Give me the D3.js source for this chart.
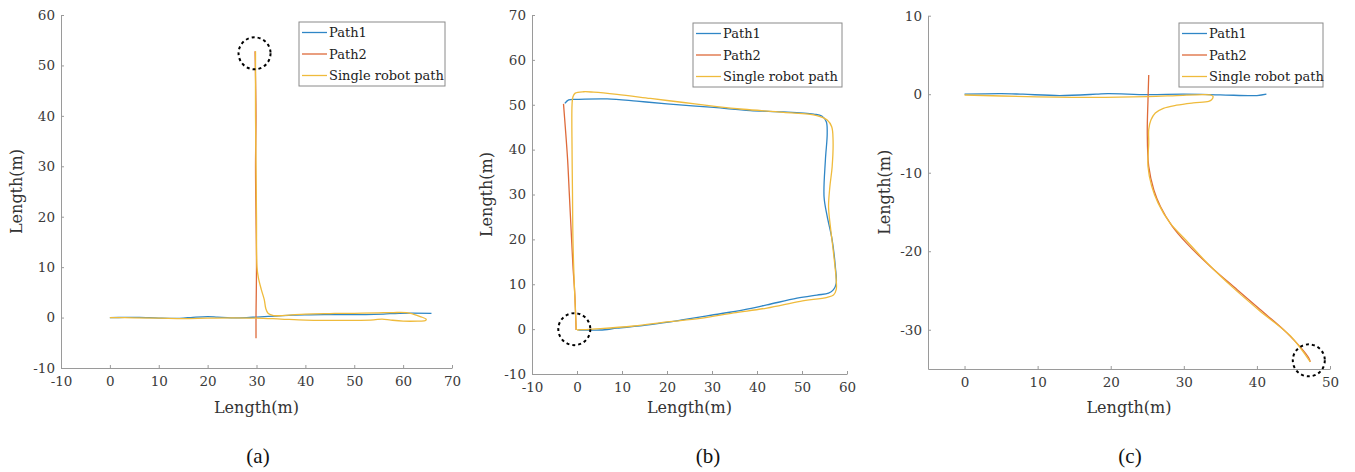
<!DOCTYPE html>
<html>
<head>
<meta charset="utf-8">
<script src="https://cdn.jsdelivr.net/npm/d3@7"></script>
<style>
  body { margin: 0; background: #fff; }
  svg { display: block; }
  .axis path, .axis line { stroke: #9a9a9a; }
  .axis text { fill: #3a3a3a; font-family: "DejaVu Serif", serif; font-size: 13.5px; }
  .title { fill: #333; font-family: "DejaVu Serif", serif; font-size: 16px; }
  .legend text { fill: #222; font-family: "DejaVu Serif", serif; font-size: 13px; }
  .caption { fill: #111; font-family: "Liberation Serif", serif; font-size: 21px; }
</style>
</head>
<body>
<svg id="chart" width="1355" height="472"></svg>
<script>
// series names and colours (MATLAB defaults, slightly softened)
const seriesNames = ["Path1", "Path2", "Single robot path"];
const seriesColors = ["#2f86c6", "#de6a3a", "#efbb3c"];

// (a) straight line test
const aXDomain = [-10, 70];
const aYDomain = [-10, 60];
const aXTicks = [-10, 0, 10, 20, 30, 40, 50, 60, 70];
const aYTicks = [-10, 0, 10, 20, 30, 40, 50, 60];
const aPath1 = [[0,0],[3,0.02],[6,0.05],[10,-0.1],[14.3,-0.15],[17,0.05],[20,0.2],[22,0.1],[24.8,-0.05],[28,0],[30,0.1],[34,0.3],[37.5,0.5],[41,0.55],[45.6,0.6],[50,0.6],[52.4,0.6],[56,0.7],[59.2,0.85],[65.8,0.85]];
const aPath2 = [[29.9,-4.1],[29.9,0],[30,10],[29.9,20],[29.8,30],[29.9,40],[29.7,52.8]];
const aSingle = [[0,0],[5,-0.05],[10,-0.1],[15,-0.2],[20,-0.1],[25,-0.05],[30,-0.1],[35,-0.3],[40,-0.5],[45,-0.55],[50,-0.55],[54,-0.45],[55.7,-0.3],[57.5,-0.5],[60,-0.7],[63,-0.7],[64.6,-0.6],[64.7,-0.3],[63.5,0.2],[62,0.7],[60.7,0.97],[58,1.0],[55,0.95],[50,0.85],[45,0.8],[40,0.7],[36,0.45],[33.5,0.4],[32.4,0.8],[31.9,1.8],[31.6,3.5],[31,5.5],[30.4,7.8],[30.1,10],[30,20],[29.9,30],[29.8,40],[29.8,52.8]];

// (b) loop test
const bXDomain = [-10, 60];
const bYDomain = [-10, 70];
const bXTicks = [-10, 0, 10, 20, 30, 40, 50, 60];
const bYTicks = [-10, 0, 10, 20, 30, 40, 50, 60, 70];
const bPath1 = [[0.3,-0.2],[3,-0.2],[5.2,-0.2],[8.9,0.2],[16.3,1],[23.7,2.1],[30.4,3.2],[37,4.3],[42.2,5.4],[48.9,6.9],[53.3,7.6],[55.9,8],[57,8.8],[57.6,10.2],[57.4,14],[56.7,19.9],[55.6,25.1],[54.9,29.5],[55.2,37.7],[55.6,43.6],[55.4,46.2],[54.4,47.5],[52.6,47.9],[45.9,48.4],[38.5,48.7],[30.4,49.4],[20,50.2],[13.3,50.8],[6.7,51.3],[0,51.2],[-1.85,51.1],[-2.7,50.3]];
const bPath2 = [[-3,50.2],[-2.6,45],[-2.1,38],[-1.7,30],[-1.3,22],[-0.9,14],[-0.5,8],[-0.3,3],[-0.2,-0.2]];
const bSingle = [[0,-0.2],[1.5,-0.1],[5.2,0.1],[12.6,0.7],[20,1.6],[27.4,2.4],[34.8,3.6],[42.2,4.7],[49.6,6.2],[55.6,7.1],[57,7.6],[57.6,8.8],[57.6,11],[57,17],[56.3,22.9],[55.9,27.3],[56.2,31.8],[56.7,36.2],[56.9,42.2],[56.6,45.1],[55.6,46.6],[53.3,47.6],[45.9,48.3],[37,49],[31.1,49.6],[23.7,50.5],[16.3,51.4],[8.9,52.3],[3.7,52.8],[1.5,52.9],[-0.4,52.6],[-0.9,51.8],[-1.1,50],[-1.1,40],[-1,30],[-0.9,20],[-0.6,10],[-0.3,3],[-0.15,-0.2]];

// (c) turning test
const cXDomain = [-5, 50];
const cYDomain = [-35, 10];
const cXTicks = [0, 10, 20, 30, 40, 50];
const cYTicks = [-30, -20, -10, 0, 10];
const cPath1 = [[0,0],[5,0.08],[8,0],[13,-0.17],[18,0],[19.6,0.08],[25,-0.05],[30,0],[35,-0.08],[40,-0.17],[41.3,0]];
const cPath2 = [[25.2,2.46],[25.1,-0.7],[25,-5],[25.2,-9.2],[25.9,-12.2],[26.8,-14.3],[28.4,-16.8],[30.4,-19],[33.6,-21.9],[37.3,-24.9],[40.4,-27.4],[44.1,-30.4],[47.1,-33.6],[47.3,-34.1]];
const cSingle = [[0,-0.1],[8.5,-0.3],[17.6,-0.4],[25,-0.3],[29,-0.17],[32.7,-0.05],[33.6,-0.1],[34,-0.3],[33.8,-0.7],[33.4,-0.9],[31.3,-1.1],[29,-1.4],[27.2,-1.8],[26.1,-2.4],[25.5,-3.3],[25.2,-4.5],[25.2,-6.2],[25.1,-9.2],[25.6,-11.7],[26.5,-13.9],[28.1,-16.4],[30.2,-18.5],[33.2,-21.5],[36.8,-24.7],[40.4,-27.6],[44.6,-30.8],[47.3,-34.1]];

// dashed circle markers (data coords)
const markers = [[29.6, 52.4], [-0.6, 0], [47.1, -33.9]];
const captions = ["(a)", "(b)", "(c)"];

const panels = [
  { xd: aXDomain, yd: aYDomain, xt: aXTicks, yt: aYTicks, series: [aPath1, aPath2, aSingle],
    box: { l: 61, r: 452, t: 15, b: 368 }, leg: { x: 299, y: 22, w: 146 }, ylabX: 17, capX: 258 },
  { xd: bXDomain, yd: bYDomain, xt: bXTicks, yt: bYTicks, series: [bPath1, bPath2, bSingle],
    box: { l: 532, r: 847, t: 15, b: 374 }, leg: { x: 693, y: 23, w: 149 }, ylabX: 487, capX: 708 },
  { xd: cXDomain, yd: cYDomain, xt: cXTicks, yt: cYTicks, series: [cPath1, cPath2, cSingle],
    box: { l: 928, r: 1330, t: 15.7, b: 369 }, leg: { x: 1179, y: 23, w: 144 }, ylabX: 885, capX: 1130 }
];

const svg = d3.select("#chart");

panels.forEach((p, i) => {
  const x = d3.scaleLinear().domain(p.xd).range([p.box.l, p.box.r]);
  const y = d3.scaleLinear().domain(p.yd).range([p.box.b, p.box.t]);
  const g = svg.append("g");

  g.append("g")
    .attr("class", "axis")
    .attr("transform", `translate(0,${p.box.b})`)
    .call(d3.axisBottom(x).tickValues(p.xt).tickSizeInner(-3).tickSizeOuter(0).tickPadding(8).tickFormat(d3.format("d")));

  g.append("g")
    .attr("class", "axis")
    .attr("transform", `translate(${p.box.l},0)`)
    .call(d3.axisLeft(y).tickValues(p.yt).tickSizeInner(-3).tickSizeOuter(0).tickPadding(6).tickFormat(d3.format("d")));

  g.selectAll(".axis text").text(d => String(d));

  // axis titles
  g.append("text")
    .attr("class", "title")
    .attr("x", (p.box.l + p.box.r) / 2)
    .attr("y", 413)
    .attr("text-anchor", "middle")
    .text("Length(m)");

  g.append("text")
    .attr("class", "title")
    .attr("transform", `translate(${p.ylabX + 5},${(p.box.t + p.box.b) / 2}) rotate(-90)`)
    .attr("text-anchor", "middle")
    .text("Length(m)");

  // paths
  const line = d3.line()
    .x(d => x(d[0]))
    .y(d => y(d[1]))
    .curve(d3.curveCatmullRom.alpha(0.5));

  p.series.forEach((s, k) => {
    g.append("path")
      .datum(s)
      .attr("fill", "none")
      .attr("stroke", seriesColors[k])
      .attr("stroke-width", 1.3)
      .attr("d", line);
  });

  // dashed circle
  g.append("circle")
    .attr("cx", x(markers[i][0]))
    .attr("cy", y(markers[i][1]))
    .attr("r", 16)
    .attr("fill", "none")
    .attr("stroke", "#000")
    .attr("stroke-width", 2)
    .attr("stroke-dasharray", "3,3");

  // legend
  const leg = g.append("g").attr("class", "legend").attr("transform", `translate(${p.leg.x},${p.leg.y})`);
  leg.append("rect")
    .attr("width", p.leg.w).attr("height", 64)
    .attr("fill", "#fff").attr("stroke", "#8a8a8a").attr("stroke-width", 1);
  seriesNames.forEach((n, k) => {
    const ly = 10.5 + k * 21.5;
    leg.append("line")
      .attr("x1", 3).attr("x2", 28).attr("y1", ly).attr("y2", ly)
      .attr("stroke", seriesColors[k]).attr("stroke-width", 1.3);
    leg.append("text")
      .attr("x", 30).attr("y", ly + 4.5)
      .text(n);
  });

  // caption
  svg.append("text")
    .attr("class", "caption")
    .attr("x", p.capX)
    .attr("y", 463)
    .attr("text-anchor", "middle")
    .text(captions[i]);
});
</script>
</body>
</html>
